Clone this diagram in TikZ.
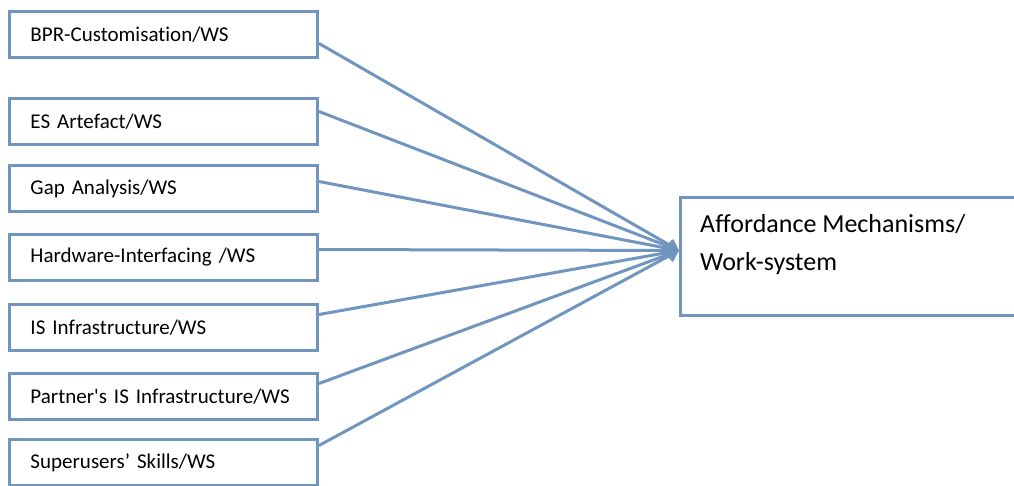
\documentclass[tikz,border=0pt]{standalone}
\usepackage{fontspec}
\setmainfont{Carlito}[Ligatures={TeXOff,NoCommon}]
\usetikzlibrary{arrows.meta}
\definecolor{edgeblue}{RGB}{112,150,192}
\begin{document}
\begin{tikzpicture}[x=1pt,y=-1pt,
  srcbox/.style={draw=edgeblue, line width=3pt, rectangle, anchor=north west,
    minimum width=308pt, minimum height=46pt, inner xsep=21pt, inner ysep=0pt,
    text width=266pt, align=left, font=\fontsize{21}{24}\selectfont},
  link/.style={draw=edgeblue, line width=3pt, -{Triangle[length=11pt,width=14pt]}}]
  \clip (0,0) rectangle (1014,486);

  % source boxes
  \node[srcbox] (b1) at (8,10)  {BPR-Customisation/WS};
  \node[srcbox] (b2) at (8,97)  {ES Artefact/WS};
  \node[srcbox] (b3) at (8,164) {Gap Analysis/WS};
  \node[srcbox] (b4) at (8,233) {Hardware-Interfacing /WS};
  \node[srcbox] (b5) at (8,303) {IS Infrastructure/WS};
  \node[srcbox] (b6) at (8,372) {Partner's IS Infrastructure/WS};
  \node[srcbox] (b7) at (8,438) {Superusers’ Skills/WS};

  % target box, open to the right
  \node[draw=edgeblue, line width=3pt, anchor=north west, minimum width=400pt,
    minimum height=118pt, inner sep=0pt] (tgt) at (679,196) {};
  \node[anchor=base west, align=left, inner sep=0pt,
    font=\fontsize{26}{38}\selectfont] (tgttext) at (700,271)
    {Affordance Mechanisms/\\Work-system};

  \coordinate (tip) at ([yshift=6pt]tgt.west);

  % connectors
  \draw[link] ([yshift=-9pt]b1.east) -- (tip);
  \draw[link] ([yshift=10pt]b2.east) -- (tip);
  \draw[link] ([yshift=7pt]b3.east) -- (tip);
  \draw[link] ([yshift=8pt]b4.east) -- (tip);
  \draw[link] ([yshift=13pt]b5.east) -- (tip);
  \draw[link] ([yshift=13pt]b6.east) -- (tip);
  \draw[link] ([yshift=17pt]b7.east) -- (tip);
\end{tikzpicture}
\end{document}
